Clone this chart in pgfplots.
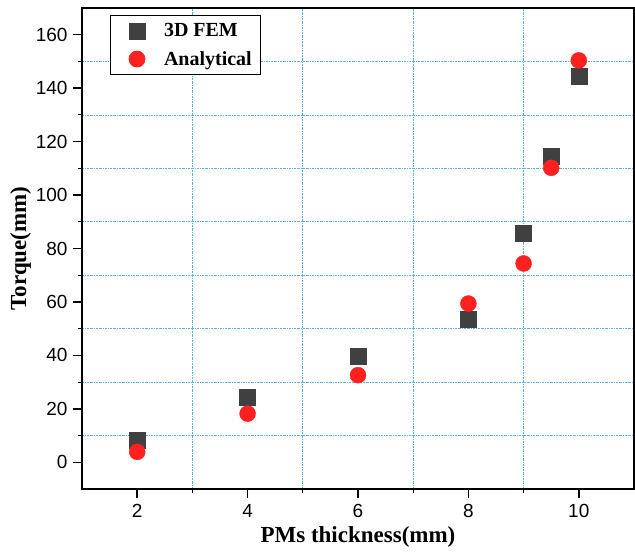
\documentclass[border=0pt]{standalone}
\usepackage{fontspec}
\setmainfont{Liberation Serif}
\newfontfamily\arialf{Liberation Sans}
\usepackage{pgfplots}
\pgfplotsset{compat=1.18}
\definecolor{femgray}{RGB}{64,64,64}
\definecolor{anared}{RGB}{255,32,32}
\definecolor{gridblue}{RGB}{90,180,220}
\begin{document}
\begin{tikzpicture}
\begin{axis}[
  scale only axis,
  width=552pt, height=481pt,
  xmin=1, xmax=11, ymin=-10, ymax=170,
  xtick={2,4,6,8,10}, ytick={0,20,...,160},
  minor xtick={3,5,7,9}, minor ytick={10,30,...,150},
  minor grid style={gridblue, line width=0.7pt, dash pattern=on 2pt off 1pt on 0.6pt off 1pt},
  xminorgrids, yminorgrids,
  axis line style={line width=1.4pt},
  tick style={black, line width=1.4pt},
  major tick length=9pt,
  minor tick length=4pt,
  xtick pos=bottom, ytick pos=left,
  tick align=outside,
  minor tick style={line width=1pt},
  /pgf/number format/assume math mode=true,
  ticklabel style={font=\arialf\fontsize{19}{21}\selectfont},
  xticklabel style={yshift=-3pt},
  yticklabel style={xshift=-2pt},
  xlabel={\bfseries PMs thickness(mm)},
  ylabel={\bfseries Torque(mm)},
  label style={font=\fontsize{23}{25}\selectfont},
  xlabel style={yshift=-2pt},
  ylabel style={yshift=-2pt},
  legend style={at={(0.05,0.985)}, anchor=north west, draw=black, line width=0.8pt,
    font=\bfseries\fontsize{20}{22}\selectfont, inner xsep=7pt, inner ysep=6pt, row sep=9pt},
  legend cell align=left,
  legend image code/.code={\path[draw=none,fill=none] (-20pt,0pt) rectangle (0pt,0.1pt); \draw[#1] plot coordinates {(0pt,0pt)};},
]
\addplot[only marks, mark=square*, mark size=8pt, color=femgray, mark options={draw=femgray, fill=femgray}]
  coordinates {(2,8.3) (4,24.5) (6,39.7) (8,53.7) (9,85.7) (9.5,114.6) (10,144.3)};
\addlegendentry{\hspace{0.85em}3D FEM}
\addplot[only marks, mark=*, mark size=8pt, color=anared, mark options={draw=anared, fill=anared}]
  coordinates {(2,3.9) (4,18.2) (6,32.6) (8,59.4) (9,74.4) (9.5,110.2) (10,150.4)};
\addlegendentry{\hspace{0.85em}Analytical}
\end{axis}
\path ([xshift=-82pt,yshift=-60pt]current axis.south west) rectangle ([xshift=1pt,yshift=8pt]current axis.north east);
\end{tikzpicture}
\end{document}
